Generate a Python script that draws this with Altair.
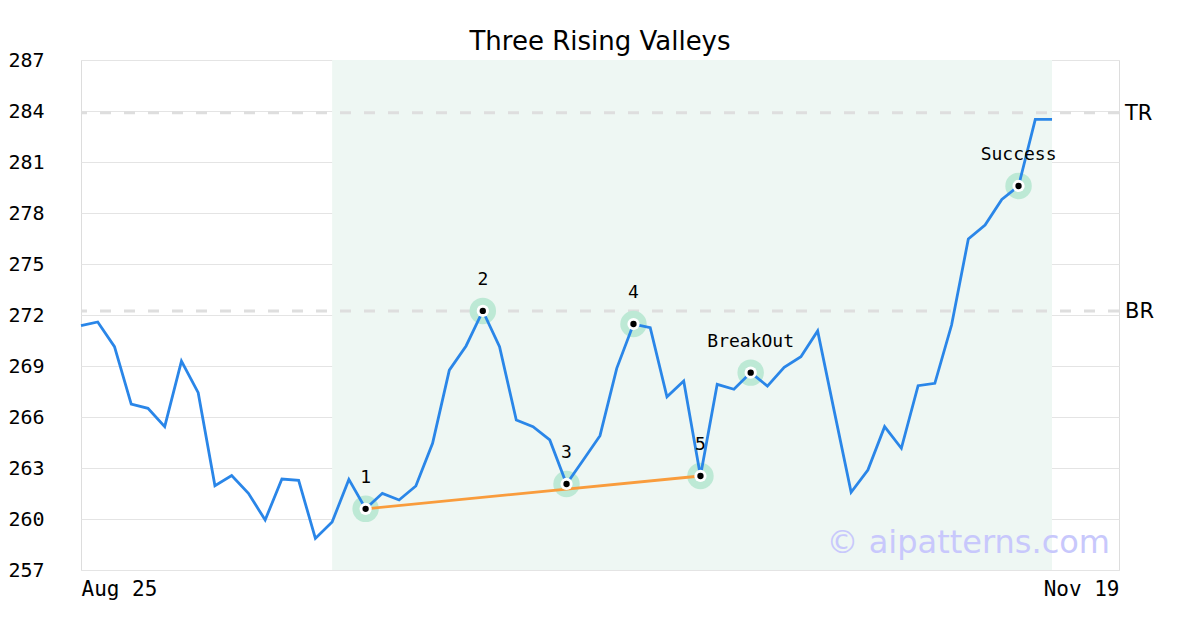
import altair as alt
import pandas as pd

# ---- data ----
prices = [271.37, 271.59, 270.14, 266.76, 266.51, 265.43, 269.29, 267.43, 261.96, 262.55,
          261.51, 259.94, 262.35, 262.27, 258.86, 259.82, 262.33, 260.60, 261.51, 261.12,
          261.94, 264.45, 268.76, 270.18, 272.24, 270.14, 265.82, 265.43, 264.65, 262.06,
          263.47, 264.90, 268.86, 271.47, 271.25, 267.19, 268.12, 262.53, 267.92, 267.63,
          268.61, 267.82, 268.92, 269.55, 271.06, 266.30, 261.57, 262.88, 265.43, 264.16,
          267.84, 267.98, 271.41, 276.47, 277.29, 278.80, 279.59, 283.51, 283.51]
idx = list(range(len(prices)))

marker_idx = [17, 24, 29, 33, 37, 40, 56]
marker_labels = ["1", "2", "3", "4", "5", "BreakOut", "Success"]

trend_idx = [17, 37]

level_names = ["TR", "BR"]
level_values = [283.9, 272.24]

shade_start, shade_end = 15, 58
x_domain = [0, 62]
y_domain = [257, 287]
y_ticks = list(range(257, 288, 3))
x_tick_labels = ["Aug 25", "Nov 19"]
title_text = "Three Rising Valleys"
watermark_text = "© aipatterns.com"

# ---- tables ----
df = pd.DataFrame({"i": idx, "p": prices})
mk = pd.DataFrame({"i": marker_idx, "p": [prices[k] for k in marker_idx], "label": marker_labels})
tr = pd.DataFrame({"i": trend_idx, "p": [prices[k] for k in trend_idx]})
lv = pd.DataFrame({"name": level_names, "v": level_values})
sh = pd.DataFrame({"a": [shade_start], "b": [shade_end], "y0": [y_domain[0]], "y1": [y_domain[1]]})

xs = alt.Scale(domain=x_domain, nice=False, zero=False)
ys = alt.Scale(domain=y_domain, nice=False, zero=False)

label_expr = f"datum.value == {x_domain[0]} ? '{x_tick_labels[0]}' : '{x_tick_labels[1]}'"

x_axis = alt.Axis(values=x_domain, labelExpr=label_expr, grid=False, ticks=False, domain=False,
                  labelFlush=True, labelFont="DejaVu Sans Mono", labelFontSize=21,
                  labelColor="#000000", labelPadding=8, title=None)
y_axis = alt.Axis(values=y_ticks, grid=True, gridColor="#e4e4e4", gridWidth=1, ticks=False,
                  domain=False, labelFont="DejaVu Sans Mono", labelFontSize=20,
                  labelColor="#000000", labelPadding=37, title=None)

shade = alt.Chart(sh).mark_rect(color="#eef7f3").encode(
    x=alt.X("a:Q", scale=xs, axis=x_axis), x2="b:Q",
    y=alt.Y("y0:Q", scale=ys, axis=y_axis), y2="y1:Q")

levels = alt.Chart(lv).mark_rule(color="#dedede", strokeWidth=3, strokeDash=[11, 13]).encode(
    y=alt.Y("v:Q", scale=ys))

level_text = alt.Chart(lv).mark_text(align="left", baseline="middle", font="DejaVu Sans",
                                      fontSize=21, color="#000000", dy=1).encode(
    x=alt.value(1044), y=alt.Y("v:Q", scale=ys), text="name:N")

halo = alt.Chart(mk).mark_circle(size=700, color="#bde9d5", opacity=1).encode(
    x=alt.X("i:Q", scale=xs), y=alt.Y("p:Q", scale=ys))

line = alt.Chart(df).mark_line(color="#2a86e8", strokeWidth=2.8).encode(
    x=alt.X("i:Q", scale=xs), y=alt.Y("p:Q", scale=ys))

trend = alt.Chart(tr).mark_line(color="#f99c3c", strokeWidth=2.8).encode(
    x=alt.X("i:Q", scale=xs), y=alt.Y("p:Q", scale=ys))

white = alt.Chart(mk).mark_circle(size=150, color="#ffffff", opacity=1).encode(
    x=alt.X("i:Q", scale=xs), y=alt.Y("p:Q", scale=ys))

dot = alt.Chart(mk).mark_circle(size=40, color="#000000", opacity=1).encode(
    x=alt.X("i:Q", scale=xs), y=alt.Y("p:Q", scale=ys))

labels = alt.Chart(mk).mark_text(baseline="middle", align="center", dy=-31,
                                  font="DejaVu Sans Mono", fontSize=18, color="#000000").encode(
    x=alt.X("i:Q", scale=xs), y=alt.Y("p:Q", scale=ys), text="label:N")

watermark = alt.Chart(pd.DataFrame({"t": [watermark_text]})).mark_text(
    align="right", baseline="alphabetic", font="DejaVu Sans", fontSize=32,
    color="#c8c8fc").encode(x=alt.value(1029), y=alt.value(493), text="t:N")

title = alt.Chart(pd.DataFrame({"t": [title_text]})).mark_text(
    align="center", baseline="alphabetic", font="DejaVu Sans", fontSize=26,
    color="#000000").encode(x=alt.value(519), y=alt.value(-10), text="t:N")

chart = alt.layer(shade, levels, level_text, halo, line, trend, white, dot, labels,
                  watermark, title).properties(
    width=1038, height=510,
    autosize=alt.AutoSizeParams(type="none"),
    padding={"left": 73, "top": 52, "right": 70, "bottom": 50},
).configure_view(stroke="#dddddd", strokeWidth=2).configure(background="#ffffff")

chart.save("out.html", embed_options={"renderer": "svg", "actions": False})
